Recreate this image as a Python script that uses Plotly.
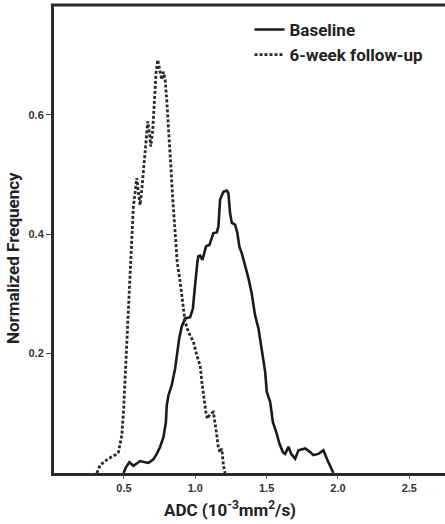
import plotly.graph_objects as go

# ADC values (10^-3 mm^2/s) and normalized frequencies
followup_adc = [0.31, 0.333, 0.39, 0.438, 0.462, 0.485, 0.497, 0.508, 0.52, 0.532, 0.543,
                0.555, 0.566, 0.578, 0.59, 0.601, 0.613, 0.625, 0.641, 0.655, 0.667,
                0.679, 0.688, 0.702, 0.714, 0.725, 0.737, 0.754, 0.765, 0.777, 0.789,
                0.80, 0.812, 0.829, 0.843, 0.859, 0.873, 0.894, 0.913, 0.929, 0.952,
                0.987, 1.011, 1.034, 1.046, 1.062, 1.076, 1.085, 1.104, 1.127, 1.139,
                1.151, 1.162, 1.174, 1.186, 1.197, 1.209]
followup_freq = [0.0, 0.013, 0.024, 0.030, 0.035, 0.063, 0.102, 0.158, 0.214, 0.298, 0.354,
                 0.402, 0.446, 0.469, 0.494, 0.471, 0.449, 0.474, 0.513, 0.558, 0.589,
                 0.569, 0.547, 0.575, 0.625, 0.670, 0.692, 0.675, 0.659, 0.672, 0.659,
                 0.625, 0.569, 0.513, 0.457, 0.402, 0.354, 0.320, 0.287, 0.253, 0.236,
                 0.220, 0.197, 0.180, 0.153, 0.119, 0.099, 0.091, 0.099, 0.102, 0.085,
                 0.063, 0.042, 0.035, 0.041, 0.013, 0.0]

baseline_adc = [0.497, 0.515, 0.538, 0.566, 0.59, 0.613, 0.648, 0.672, 0.707, 0.730,
                0.754, 0.777, 0.794, 0.80, 0.812, 0.835, 0.859, 0.875, 0.887, 0.905,
                0.929, 0.964, 0.983, 0.994, 1.006, 1.015, 1.022, 1.034, 1.05, 1.062,
                1.076, 1.099, 1.116, 1.127, 1.151, 1.162, 1.174, 1.186, 1.197, 1.221,
                1.232, 1.244, 1.256, 1.279, 1.295, 1.309, 1.326, 1.343, 1.373, 1.396,
                1.419, 1.443, 1.466, 1.49, 1.501, 1.525, 1.544, 1.567, 1.590, 1.614,
                1.63, 1.653, 1.672, 1.70, 1.723, 1.77, 1.805, 1.828, 1.863, 1.898,
                1.922, 1.945, 1.968]
baseline_freq = [0.0, 0.010, 0.018, 0.012, 0.016, 0.020, 0.018, 0.017, 0.023, 0.032,
                 0.044, 0.060, 0.085, 0.113, 0.130, 0.147, 0.175, 0.203, 0.225, 0.245,
                 0.259, 0.261, 0.275, 0.303, 0.337, 0.354, 0.363, 0.364, 0.357, 0.368,
                 0.380, 0.382, 0.393, 0.402, 0.403, 0.413, 0.458, 0.466, 0.471, 0.473,
                 0.469, 0.435, 0.419, 0.416, 0.402, 0.379, 0.368, 0.353, 0.326, 0.300,
                 0.264, 0.242, 0.208, 0.169, 0.136, 0.119, 0.085, 0.069, 0.049, 0.035,
                 0.032, 0.044, 0.032, 0.024, 0.038, 0.041, 0.035, 0.030, 0.032, 0.038,
                 0.024, 0.013, 0.0]

x_ticks = [0.5, 1.0, 1.5, 2.0, 2.5]
x_tick_labels = ["0.5", "1.0", "1.5", "2.0", "2.5"]
y_ticks = [0.2, 0.4, 0.6]
y_tick_labels = ["0.2", "0.4", "0.6"]

x_title = "ADC (10<sup>-3</sup>mm<sup>2</sup>/s)"
y_title = "Normalized Frequency"

fig = go.Figure()
fig.add_trace(go.Scatter(
    x=baseline_adc, y=baseline_freq, mode="lines", name="Baseline",
    line=dict(color="#1a1a1a", width=2.6),
))
fig.add_trace(go.Scatter(
    x=followup_adc, y=followup_freq, mode="lines", name="6-week follow-up",
    line=dict(color="#2a2a2a", width=2.8, dash="3px,2px"),
))

tick_font = dict(family="Liberation Sans", size=11, color="#333333", weight="bold")
title_font = dict(family="Roboto", size=17, color="#222222", weight="bold")

fig.update_layout(
    width=445, height=524,
    margin=dict(l=54, r=0, t=5, b=51),
    paper_bgcolor="white", plot_bgcolor="white",
    showlegend=True,
    legend=dict(
        x=0.5, y=0.985, xanchor="left", yanchor="top",
        font=dict(family="Roboto", size=17, color="#222222", weight="bold"),
        bgcolor="rgba(0,0,0,0)", itemwidth=30, tracegroupgap=0,
    ),
    xaxis=dict(
        range=[0.01, 2.75], tickvals=x_ticks, ticktext=x_tick_labels,
        showgrid=False, zeroline=False, showline=True, linecolor="#2a2a2a",
        linewidth=3, ticks="outside", ticklen=3, tickwidth=1, tickcolor="#666666",
        tickfont=tick_font,
    ),
    yaxis=dict(
        range=[0, 0.784], tickvals=y_ticks, ticktext=y_tick_labels,
        showgrid=False, zeroline=False, showline=True, linecolor="#2a2a2a",
        linewidth=3, ticks="outside", ticklen=5, tickwidth=1, tickcolor="#444444",
        tickfont=tick_font,
    ),
    shapes=[dict(type="line", xref="paper", yref="paper", x0=-0.008, x1=1, y0=1, y1=1,
                 line=dict(color="#2a2a2a", width=3))],
    annotations=[
        dict(text=x_title, font=title_font, showarrow=False,
             xref="x", yref="paper", x=1.24, y=-0.077, xanchor="center", yanchor="middle"),
        dict(text=y_title, font=title_font, showarrow=False, textangle=-90,
             xref="paper", yref="y", x=-0.105, y=0.36, xanchor="center", yanchor="middle"),
    ],
)

fig.write_html("out.html", config={"displayModeBar": False},
               post_script="document.body.style.margin='0';document.body.style.overflow='hidden';")
